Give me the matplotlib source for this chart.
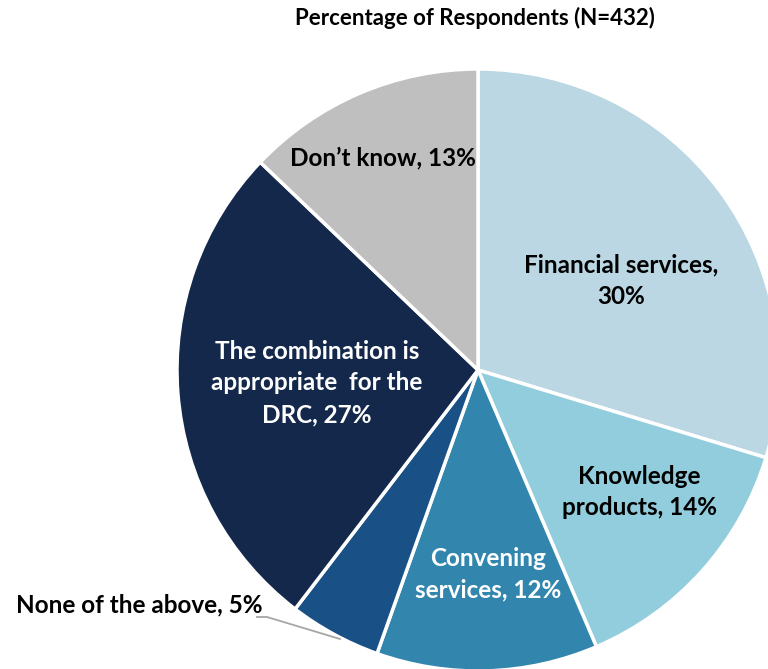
import matplotlib
matplotlib.use("Agg")
import matplotlib.pyplot as plt

categories = ["Financial services", "Knowledge products", "Convening services",
              "None of the above", "The combination is appropriate for the DRC", "Don\u2019t know"]
values = [30, 14, 12, 5, 27, 13]
labels = ["Financial services,\n30%", "Knowledge\nproducts, 14%", "Convening\nservices, 12%",
          "None of the above, 5%", "The combination is\nappropriate  for the\nDRC, 27%", "Don\u2019t know, 13%"]
colors = ["#BAD7E3", "#92CDDD", "#3286AE", "#195186", "#13284B", "#BFBFBF"]
text_colors = ["#000000", "#000000", "#FFFFFF", "#000000", "#FFFFFF", "#000000"]
title = "Percentage of Respondents (N=432)"

W, H = 768, 669
fig = plt.figure(figsize=(W / 100, H / 100), dpi=100)
ax = fig.add_axes([0, 0, 1, 1])
ax.pie(values, colors=colors, startangle=90, counterclock=False,
       center=(478, H - 370), radius=301,
       wedgeprops=dict(edgecolor="white", linewidth=2.5))
ax.set_xlim(0, W)
ax.set_ylim(0, H)
ax.set_aspect("equal")
ax.axis("off")

font = dict(family="Lato", fontweight="bold")
# label positions (pixel coordinates, y downward)
pos = [(621, 281), (639, 492), (488, 574), (139, 605), (317, 383), (383, 158)]
for lab, (x, y), tc in zip(labels, pos, text_colors):
    ax.text(x, H - y, lab, ha="center", va="center", color=tc, fontsize=17.5,
            linespacing=1.45, **font)

# leader line for the small slice
ax.plot([257, 267, 340], [H - 617, H - 617, H - 639], color="#A6A6A6", lw=1.3)

ax.text(475, H - 18, title, ha="center", va="center", fontsize=16, color="#000000", **font)

fig.savefig("out.png", dpi=100)
